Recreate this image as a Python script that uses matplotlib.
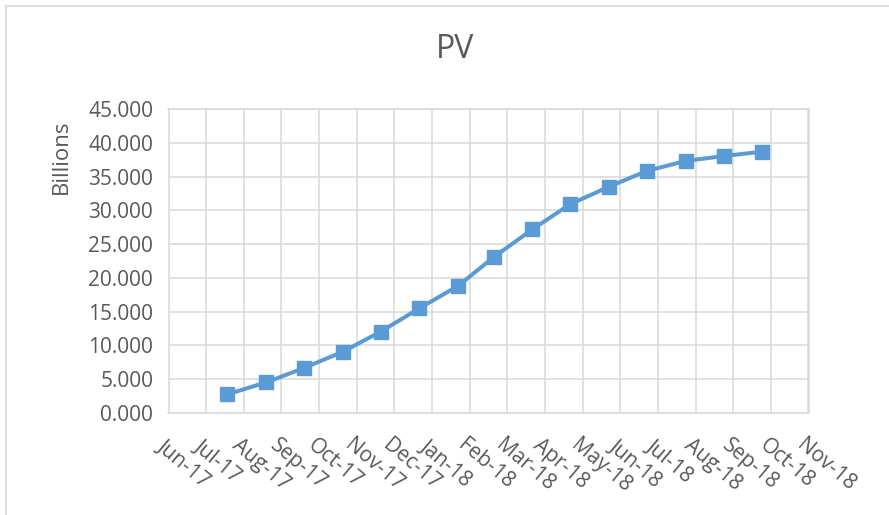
import datetime as dt
import matplotlib
matplotlib.use("Agg")
import matplotlib.pyplot as plt
import matplotlib.dates as mdates
from matplotlib.lines import Line2D
from matplotlib.transforms import ScaledTranslation

# month-end values, in billions
dates = [dt.date(2017, 7, 31), dt.date(2017, 8, 31), dt.date(2017, 9, 30),
         dt.date(2017, 10, 31), dt.date(2017, 11, 30), dt.date(2017, 12, 31),
         dt.date(2018, 1, 31), dt.date(2018, 2, 28), dt.date(2018, 3, 31),
         dt.date(2018, 4, 30), dt.date(2018, 5, 31), dt.date(2018, 6, 30),
         dt.date(2018, 7, 31), dt.date(2018, 8, 31), dt.date(2018, 9, 30)]
pv = [2.73, 4.51, 6.63, 9.05, 12.01, 15.49, 18.84, 23.05, 27.20, 30.91,
      33.52, 35.85, 37.34, 38.08, 38.71]

# date axis: 30-day major unit
x_start = dt.date(2017, 6, 14)
x_ticks = [x_start + dt.timedelta(days=30 * k) for k in range(18)]

GRAY = "#595959"
GRID = "#d9d9d9"
BLUE = "#5b9bd5"

plt.rcParams["font.family"] = ["Open Sans", "DejaVu Sans"]

fig = plt.figure(figsize=(8.89, 5.15), dpi=100)
ax = fig.add_axes([168.5 / 889, 1 - 412.7 / 515, 640 / 889, 303.4 / 515])

ax.plot(dates, pv, color=BLUE, lw=2.9, marker="s", ms=10.5,
        markerfacecolor=BLUE, markeredgecolor=BLUE, zorder=3)

ax.set_xlim(x_ticks[0], x_ticks[-1])
ax.set_ylim(0, 45)
ax.set_yticks(range(0, 46, 5))
ax.yaxis.set_major_formatter(plt.FuncFormatter(lambda v, p: f"{v:.3f}"))
ax.set_xticks(x_ticks)
ax.xaxis.set_major_formatter(mdates.DateFormatter("%b-%y"))

ax.grid(True, color=GRID, lw=1.1)
ax.set_axisbelow(True)
for s in ax.spines.values():
    s.set_color(GRID)
    s.set_linewidth(1.1)

ax.tick_params(axis="both", length=0, labelsize=15, labelcolor=GRAY)
ax.tick_params(axis="y", pad=11)
ax.tick_params(axis="x", pad=22)
for lbl in ax.get_xticklabels():
    lbl.set_rotation(-40)
    lbl.set_ha("left")
    lbl.set_va("center")
    lbl.set_rotation_mode("anchor")
    lbl.set_transform(lbl.get_transform() +
                      ScaledTranslation(-9 / 100, 0, fig.dpi_scale_trans))

fig.text(455 / 889, 1 - 50 / 515, "PV", ha="center", va="center",
         fontsize=23, color=GRAY)
fig.text(61 / 889, 1 - 157 / 515, "Billions", ha="center", va="center",
         rotation=90, fontsize=16, color=GRAY)

# chart area border (left and top edges)
fig.add_artist(Line2D([6 / 889, 6 / 889], [0, 1 - 6 / 515],
                      transform=fig.transFigure, color=GRID, lw=1.2))
fig.add_artist(Line2D([6 / 889, 1], [1 - 6 / 515, 1 - 6 / 515],
                      transform=fig.transFigure, color=GRID, lw=1.2))

fig.savefig("out.png", dpi=100)
